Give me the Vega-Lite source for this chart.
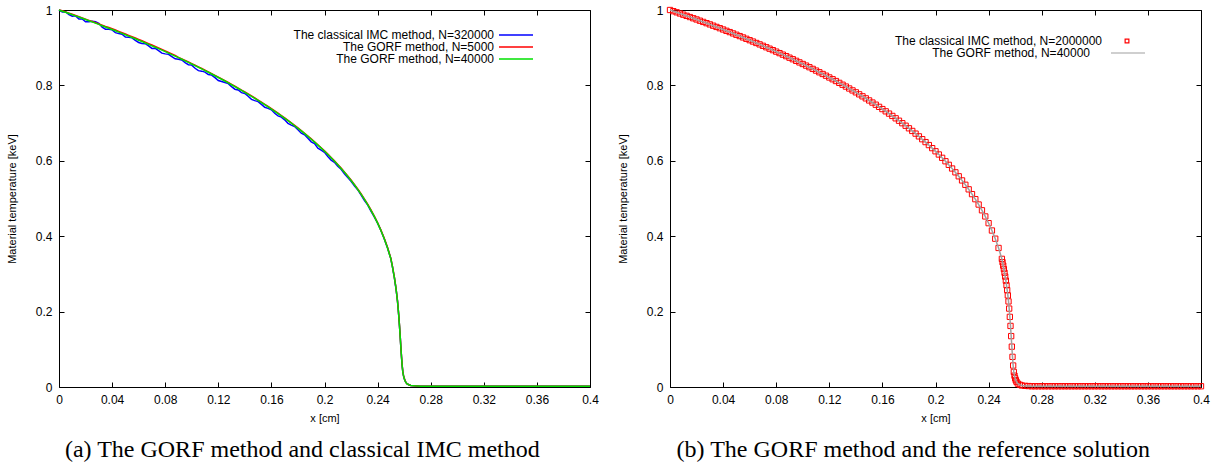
{
"$schema": "https://vega.github.io/schema/vega-lite/v6.json",
"background": "white",
"padding": {"left": 5, "top": 3, "right": 5, "bottom": 5},
"spacing": 17,
"resolve": {"scale": {"color": "independent", "strokeDash": "independent"}, "legend": {"color": "independent", "strokeDash": "independent"}},
"datasets": {"c": [
{"x":0,"imc":1,"g5":1,"g40":1,"ref":1},
{"x":0.0025,"imc":0.9949,"g5":0.9979,"g40":0.9969,"ref":0.9969},
{"x":0.005,"imc":0.9949,"g5":0.9949,"g40":0.9939,"ref":0.9939},
{"x":0.0075,"imc":0.9877,"g5":0.9917,"g40":0.9907,"ref":0.9907},
{"x":0.01,"imc":0.9836,"g5":0.9886,"g40":0.9876,"ref":0.9876},
{"x":0.0125,"imc":0.9845,"g5":0.9855,"g40":0.9845,"ref":0.9845},
{"x":0.015,"imc":0.9763,"g5":0.9823,"g40":0.9813,"ref":0.9813},
{"x":0.0175,"imc":0.9761,"g5":0.9791,"g40":0.9781,"ref":0.9781},
{"x":0.02,"imc":0.9689,"g5":0.9759,"g40":0.9749,"ref":0.9749},
{"x":0.0225,"imc":0.9686,"g5":0.9726,"g40":0.9716,"ref":0.9716},
{"x":0.025,"imc":0.9704,"g5":0.9694,"g40":0.9684,"ref":0.9684},
{"x":0.0275,"imc":0.9691,"g5":0.9661,"g40":0.9651,"ref":0.9651},
{"x":0.03,"imc":0.9648,"g5":0.9628,"g40":0.9618,"ref":0.9618},
{"x":0.0325,"imc":0.9544,"g5":0.9594,"g40":0.9584,"ref":0.9584},
{"x":0.035,"imc":0.9491,"g5":0.9561,"g40":0.9551,"ref":0.9551},
{"x":0.0375,"imc":0.9487,"g5":0.9537,"g40":0.9517,"ref":0.9517},
{"x":0.04,"imc":0.9473,"g5":0.9503,"g40":0.9483,"ref":0.9483},
{"x":0.0425,"imc":0.9398,"g5":0.9468,"g40":0.9448,"ref":0.9448},
{"x":0.045,"imc":0.9374,"g5":0.9434,"g40":0.9414,"ref":0.9414},
{"x":0.0475,"imc":0.9359,"g5":0.9399,"g40":0.9379,"ref":0.9379},
{"x":0.05,"imc":0.9283,"g5":0.9363,"g40":0.9343,"ref":0.9343},
{"x":0.0525,"imc":0.9278,"g5":0.9328,"g40":0.9308,"ref":0.9308},
{"x":0.055,"imc":0.9262,"g5":0.9292,"g40":0.9272,"ref":0.9272},
{"x":0.0575,"imc":0.9196,"g5":0.9256,"g40":0.9236,"ref":0.9236},
{"x":0.06,"imc":0.9139,"g5":0.9219,"g40":0.9199,"ref":0.9199},
{"x":0.0625,"imc":0.9113,"g5":0.9183,"g40":0.9163,"ref":0.9163},
{"x":0.065,"imc":0.9105,"g5":0.9145,"g40":0.9125,"ref":0.9125},
{"x":0.0675,"imc":0.9048,"g5":0.9108,"g40":0.9088,"ref":0.9088},
{"x":0.07,"imc":0.898,"g5":0.907,"g40":0.905,"ref":0.905},
{"x":0.0725,"imc":0.8982,"g5":0.9032,"g40":0.9012,"ref":0.9012},
{"x":0.075,"imc":0.8924,"g5":0.8994,"g40":0.8974,"ref":0.8974},
{"x":0.0775,"imc":0.8855,"g5":0.8955,"g40":0.8935,"ref":0.8935},
{"x":0.08,"imc":0.8836,"g5":0.8916,"g40":0.8896,"ref":0.8896},
{"x":0.0825,"imc":0.8826,"g5":0.8876,"g40":0.8856,"ref":0.8856},
{"x":0.085,"imc":0.8766,"g5":0.8836,"g40":0.8816,"ref":0.8816},
{"x":0.0875,"imc":0.8706,"g5":0.8796,"g40":0.8776,"ref":0.8776},
{"x":0.09,"imc":0.8695,"g5":0.8745,"g40":0.8735,"ref":0.8735},
{"x":0.0925,"imc":0.8674,"g5":0.8704,"g40":0.8694,"ref":0.8694},
{"x":0.095,"imc":0.8602,"g5":0.8662,"g40":0.8652,"ref":0.8652},
{"x":0.0975,"imc":0.855,"g5":0.862,"g40":0.861,"ref":0.861},
{"x":0.1,"imc":0.8538,"g5":0.8578,"g40":0.8568,"ref":0.8568},
{"x":0.1025,"imc":0.8455,"g5":0.8535,"g40":0.8525,"ref":0.8525},
{"x":0.105,"imc":0.8392,"g5":0.8492,"g40":0.8482,"ref":0.8482},
{"x":0.1075,"imc":0.8378,"g5":0.8448,"g40":0.8438,"ref":0.8438},
{"x":0.11,"imc":0.8353,"g5":0.8403,"g40":0.8393,"ref":0.8393},
{"x":0.1125,"imc":0.8288,"g5":0.8358,"g40":0.8348,"ref":0.8348},
{"x":0.115,"imc":0.8273,"g5":0.8313,"g40":0.8303,"ref":0.8303},
{"x":0.1175,"imc":0.8207,"g5":0.8267,"g40":0.8257,"ref":0.8257},
{"x":0.12,"imc":0.813,"g5":0.822,"g40":0.821,"ref":0.821},
{"x":0.1225,"imc":0.8103,"g5":0.8173,"g40":0.8163,"ref":0.8163},
{"x":0.125,"imc":0.8076,"g5":0.8126,"g40":0.8116,"ref":0.8116},
{"x":0.1275,"imc":0.8047,"g5":0.8077,"g40":0.8067,"ref":0.8067},
{"x":0.13,"imc":0.7968,"g5":0.8028,"g40":0.8018,"ref":0.8018},
{"x":0.1325,"imc":0.7899,"g5":0.7979,"g40":0.7969,"ref":0.7969},
{"x":0.135,"imc":0.7878,"g5":0.7928,"g40":0.7918,"ref":0.7918},
{"x":0.1375,"imc":0.7807,"g5":0.7877,"g40":0.7867,"ref":0.7867},
{"x":0.14,"imc":0.7786,"g5":0.7826,"g40":0.7816,"ref":0.7816},
{"x":0.1425,"imc":0.7713,"g5":0.7773,"g40":0.7763,"ref":0.7763},
{"x":0.145,"imc":0.763,"g5":0.772,"g40":0.771,"ref":0.771},
{"x":0.1475,"imc":0.7596,"g5":0.7666,"g40":0.7656,"ref":0.7656},
{"x":0.15,"imc":0.7571,"g5":0.7611,"g40":0.7601,"ref":0.7601},
{"x":0.1525,"imc":0.7495,"g5":0.7555,"g40":0.7545,"ref":0.7545},
{"x":0.155,"imc":0.7418,"g5":0.7498,"g40":0.7488,"ref":0.7488},
{"x":0.1575,"imc":0.7391,"g5":0.7441,"g40":0.7431,"ref":0.7431},
{"x":0.16,"imc":0.7352,"g5":0.7382,"g40":0.7372,"ref":0.7372},
{"x":0.1625,"imc":0.7262,"g5":0.7322,"g40":0.7312,"ref":0.7312},
{"x":0.165,"imc":0.7192,"g5":0.7262,"g40":0.7252,"ref":0.7252},
{"x":0.1675,"imc":0.716,"g5":0.72,"g40":0.719,"ref":0.719},
{"x":0.17,"imc":0.7087,"g5":0.7137,"g40":0.7127,"ref":0.7127},
{"x":0.1725,"imc":0.6993,"g5":0.7073,"g40":0.7063,"ref":0.7063},
{"x":0.175,"imc":0.6947,"g5":0.7007,"g40":0.6997,"ref":0.6997},
{"x":0.1775,"imc":0.691,"g5":0.694,"g40":0.693,"ref":0.693},
{"x":0.18,"imc":0.6822,"g5":0.6872,"g40":0.6862,"ref":0.6862},
{"x":0.1825,"imc":0.6732,"g5":0.6802,"g40":0.6792,"ref":0.6792},
{"x":0.185,"imc":0.6691,"g5":0.6731,"g40":0.6721,"ref":0.6721},
{"x":0.1875,"imc":0.6598,"g5":0.6658,"g40":0.6648,"ref":0.6648},
{"x":0.19,"imc":0.6503,"g5":0.6583,"g40":0.6573,"ref":0.6573},
{"x":0.1925,"imc":0.6456,"g5":0.6506,"g40":0.6496,"ref":0.6496},
{"x":0.195,"imc":0.6337,"g5":0.6427,"g40":0.6417,"ref":0.6417},
{"x":0.1975,"imc":0.6286,"g5":0.6346,"g40":0.6336,"ref":0.6336},
{"x":0.2,"imc":0.6223,"g5":0.6263,"g40":0.6253,"ref":0.6253},
{"x":0.2025,"imc":0.6117,"g5":0.6177,"g40":0.6167,"ref":0.6167},
{"x":0.205,"imc":0.6019,"g5":0.6089,"g40":0.6079,"ref":0.6079},
{"x":0.2075,"imc":0.5958,"g5":0.5998,"g40":0.5988,"ref":0.5988},
{"x":0.21,"imc":0.5853,"g5":0.5903,"g40":0.5893,"ref":0.5893},
{"x":0.2125,"imc":0.5776,"g5":0.5806,"g40":0.5796,"ref":0.5796},
{"x":0.215,"imc":0.5654,"g5":0.5704,"g40":0.5694,"ref":0.5694},
{"x":0.2175,"imc":0.5559,"g5":0.5599,"g40":0.5589,"ref":0.5589},
{"x":0.22,"imc":0.5459,"g5":0.5489,"g40":0.5479,"ref":0.5479},
{"x":0.2225,"imc":0.5334,"g5":0.5374,"g40":0.5364,"ref":0.5364},
{"x":0.225,"imc":0.5233,"g5":0.5253,"g40":0.5243,"ref":0.5243},
{"x":0.2275,"imc":0.5096,"g5":0.5126,"g40":0.5116,"ref":0.5116},
{"x":0.23,"imc":0.4952,"g5":0.4992,"g40":0.4982,"ref":0.4982},
{"x":0.2325,"imc":0.483,"g5":0.485,"g40":0.484,"ref":0.484},
{"x":0.235,"imc":0.4667,"g5":0.4697,"g40":0.4687,"ref":0.4687},
{"x":0.2375,"imc":0.4514,"g5":0.4534,"g40":0.4524,"ref":0.4524},
{"x":0.24,"imc":0.4346,"g5":0.4356,"g40":0.4346,"ref":0.4346},
{"x":0.2425,"imc":0.4151,"g5":0.4161,"g40":0.4151,"ref":0.4151},
{"x":0.245,"imc":0.3934,"g5":0.3944,"g40":0.3934,"ref":0.3934},
{"x":0.2475,"imc":0.3688,"g5":0.3698,"g40":0.3688,"ref":0.3688},
{"x":0.25,"imc":0.3399,"g5":0.3409,"g40":0.3399,"ref":0.3399},
{"x":0.2505,"imc":0.33,"g5":0.332,"g40":0.331,"ref":0.331},
{"x":0.251,"imc":0.323,"g5":0.323,"g40":0.322,"ref":0.322},
{"x":0.2515,"imc":0.312,"g5":0.314,"g40":0.313,"ref":0.313},
{"x":0.252,"imc":0.302,"g5":0.304,"g40":0.303,"ref":0.303},
{"x":0.2525,"imc":0.294,"g5":0.294,"g40":0.293,"ref":0.293},
{"x":0.253,"imc":0.281,"g5":0.283,"g40":0.282,"ref":0.282},
{"x":0.2535,"imc":0.269,"g5":0.271,"g40":0.27,"ref":0.27},
{"x":0.254,"imc":0.257,"g5":0.258,"g40":0.257,"ref":0.257},
{"x":0.2545,"imc":0.242,"g5":0.244,"g40":0.243,"ref":0.243},
{"x":0.255,"imc":0.228,"g5":0.228,"g40":0.227,"ref":0.227},
{"x":0.2555,"imc":0.207,"g5":0.209,"g40":0.208,"ref":0.208},
{"x":0.256,"imc":0.187,"g5":0.187,"g40":0.186,"ref":0.186},
{"x":0.2565,"imc":0.161,"g5":0.163,"g40":0.162,"ref":0.162},
{"x":0.257,"imc":0.136,"g5":0.136,"g40":0.135,"ref":0.135},
{"x":0.2575,"imc":0.106,"g5":0.108,"g40":0.107,"ref":0.107},
{"x":0.258,"imc":0.081,"g5":0.081,"g40":0.08,"ref":0.08},
{"x":0.2585,"imc":0.056,"g5":0.058,"g40":0.057,"ref":0.057},
{"x":0.259,"imc":0.041,"g5":0.041,"g40":0.04,"ref":0.04},
{"x":0.2595,"imc":0.03,"g5":0.031,"g40":0.03,"ref":0.03},
{"x":0.26,"imc":0.023,"g5":0.024,"g40":0.023,"ref":0.023},
{"x":0.2605,"imc":0.018,"g5":0.019,"g40":0.018,"ref":0.018},
{"x":0.261,"imc":0.014,"g5":0.014,"g40":0.014,"ref":0.014},
{"x":0.262,"imc":0.009,"g5":0.009,"g40":0.009,"ref":0.009},
{"x":0.2635,"imc":0.006,"g5":0.006,"g40":0.006,"ref":0.006},
{"x":0.265,"imc":0.004,"g5":0.004,"g40":0.004,"ref":0.004},
{"x":0.2675,"imc":0.003,"g5":0.003,"g40":0.003,"ref":0.003},
{"x":0.27,"imc":0.0025,"g5":0.0025,"g40":0.0025,"ref":0.0025},
{"x":0.2725,"imc":0.002,"g5":0.002,"g40":0.002,"ref":0.002},
{"x":0.275,"imc":0.002,"g5":0.002,"g40":0.002,"ref":0.002},
{"x":0.2775,"imc":0.002,"g5":0.002,"g40":0.002,"ref":0.002},
{"x":0.28,"imc":0.002,"g5":0.002,"g40":0.002,"ref":0.002},
{"x":0.2825,"imc":0.002,"g5":0.002,"g40":0.002,"ref":0.002},
{"x":0.285,"imc":0.002,"g5":0.002,"g40":0.002,"ref":0.002},
{"x":0.2875,"imc":0.002,"g5":0.002,"g40":0.002,"ref":0.002},
{"x":0.29,"imc":0.002,"g5":0.002,"g40":0.002,"ref":0.002},
{"x":0.2925,"imc":0.002,"g5":0.002,"g40":0.002,"ref":0.002},
{"x":0.295,"imc":0.002,"g5":0.002,"g40":0.002,"ref":0.002},
{"x":0.2975,"imc":0.002,"g5":0.002,"g40":0.002,"ref":0.002},
{"x":0.3,"imc":0.002,"g5":0.002,"g40":0.002,"ref":0.002},
{"x":0.3025,"imc":0.002,"g5":0.002,"g40":0.002,"ref":0.002},
{"x":0.305,"imc":0.002,"g5":0.002,"g40":0.002,"ref":0.002},
{"x":0.3075,"imc":0.002,"g5":0.002,"g40":0.002,"ref":0.002},
{"x":0.31,"imc":0.002,"g5":0.002,"g40":0.002,"ref":0.002},
{"x":0.3125,"imc":0.002,"g5":0.002,"g40":0.002,"ref":0.002},
{"x":0.315,"imc":0.002,"g5":0.002,"g40":0.002,"ref":0.002},
{"x":0.3175,"imc":0.002,"g5":0.002,"g40":0.002,"ref":0.002},
{"x":0.32,"imc":0.002,"g5":0.002,"g40":0.002,"ref":0.002},
{"x":0.3225,"imc":0.002,"g5":0.002,"g40":0.002,"ref":0.002},
{"x":0.325,"imc":0.002,"g5":0.002,"g40":0.002,"ref":0.002},
{"x":0.3275,"imc":0.002,"g5":0.002,"g40":0.002,"ref":0.002},
{"x":0.33,"imc":0.002,"g5":0.002,"g40":0.002,"ref":0.002},
{"x":0.3325,"imc":0.002,"g5":0.002,"g40":0.002,"ref":0.002},
{"x":0.335,"imc":0.002,"g5":0.002,"g40":0.002,"ref":0.002},
{"x":0.3375,"imc":0.002,"g5":0.002,"g40":0.002,"ref":0.002},
{"x":0.34,"imc":0.002,"g5":0.002,"g40":0.002,"ref":0.002},
{"x":0.3425,"imc":0.002,"g5":0.002,"g40":0.002,"ref":0.002},
{"x":0.345,"imc":0.002,"g5":0.002,"g40":0.002,"ref":0.002},
{"x":0.3475,"imc":0.002,"g5":0.002,"g40":0.002,"ref":0.002},
{"x":0.35,"imc":0.002,"g5":0.002,"g40":0.002,"ref":0.002},
{"x":0.3525,"imc":0.002,"g5":0.002,"g40":0.002,"ref":0.002},
{"x":0.355,"imc":0.002,"g5":0.002,"g40":0.002,"ref":0.002},
{"x":0.3575,"imc":0.002,"g5":0.002,"g40":0.002,"ref":0.002},
{"x":0.36,"imc":0.002,"g5":0.002,"g40":0.002,"ref":0.002},
{"x":0.3625,"imc":0.002,"g5":0.002,"g40":0.002,"ref":0.002},
{"x":0.365,"imc":0.002,"g5":0.002,"g40":0.002,"ref":0.002},
{"x":0.3675,"imc":0.002,"g5":0.002,"g40":0.002,"ref":0.002},
{"x":0.37,"imc":0.002,"g5":0.002,"g40":0.002,"ref":0.002},
{"x":0.3725,"imc":0.002,"g5":0.002,"g40":0.002,"ref":0.002},
{"x":0.375,"imc":0.002,"g5":0.002,"g40":0.002,"ref":0.002},
{"x":0.3775,"imc":0.002,"g5":0.002,"g40":0.002,"ref":0.002},
{"x":0.38,"imc":0.002,"g5":0.002,"g40":0.002,"ref":0.002},
{"x":0.3825,"imc":0.002,"g5":0.002,"g40":0.002,"ref":0.002},
{"x":0.385,"imc":0.002,"g5":0.002,"g40":0.002,"ref":0.002},
{"x":0.3875,"imc":0.002,"g5":0.002,"g40":0.002,"ref":0.002},
{"x":0.39,"imc":0.002,"g5":0.002,"g40":0.002,"ref":0.002},
{"x":0.3925,"imc":0.002,"g5":0.002,"g40":0.002,"ref":0.002},
{"x":0.395,"imc":0.002,"g5":0.002,"g40":0.002,"ref":0.002},
{"x":0.3975,"imc":0.002,"g5":0.002,"g40":0.002,"ref":0.002},
{"x":0.4,"imc":0.002,"g5":0.002,"g40":0.002,"ref":0.002}
]},
"config": {
  "view": {"stroke": "black", "strokeWidth": 1},
  "axis": {"grid": false, "domain": false, "tickColor": "black", "tickSize": -5, "tickWidth": 1,
           "labelFont": "Liberation Sans", "labelFontSize": 12, "labelColor": "black", "labelFlush": false,
           "titleFont": "Liberation Sans", "titleFontSize": 11, "titleFontWeight": "normal", "titleColor": "black"},
  "axisX": {"labelPadding": 12, "titlePadding": 7},
  "axisY": {"labelPadding": 12, "titlePadding": 18},
  "legend": {"title": null, "padding": 0, "labelFont": "Liberation Sans", "labelFontSize": 12, "labelColor": "black",
             "labelLimit": 400, "labelAlign": "right", "rowPadding": 0, "symbolType": "M-3.4,0H3.4", "symbolSize": 100,
             "symbolStrokeWidth": 1.3}
},
"hconcat": [
 {
  "width": 531, "height": 377,
  "title": {"text": "(a) The GORF method and classical IMC method", "orient": "bottom", "anchor": "middle", "frame": "bounds",
            "font": "Liberation Serif", "fontSize": 24, "fontWeight": "normal", "color": "black", "offset": 15},
  "data": {"name": "c"},
  "layer": [
   {"mark": {"type": "line", "strokeWidth": 1.5},
    "encoding": {
     "x": {"field": "x", "type": "quantitative", "scale": {"domain": [0, 0.4]},
           "axis": {"orient": "bottom", "title": "x [cm]", "values": [0,0.04,0.08,0.12,0.16,0.2,0.24,0.28,0.32,0.36,0.4], "format": "~g"}},
     "y": {"field": "imc", "type": "quantitative", "scale": {"domain": [0, 1]},
           "axis": {"orient": "left", "title": "Material temperature [keV]", "values": [0,0.2,0.4,0.6,0.8,1], "format": "~g"}},
     "color": {"datum": "The classical IMC method, N=320000", "type": "nominal",
       "scale": {"domain": ["The classical IMC method, N=320000", "The GORF method, N=5000", "The GORF method, N=40000"],
                 "range": ["#0000ff", "#ff0000", "#00e000"]},
       "legend": {"orient": "none", "legendX": 451, "legendY": 19, "labelOffset": -28}}
    }},
   {"mark": {"type": "line", "strokeWidth": 1.5},
    "encoding": {
     "x": {"field": "x", "type": "quantitative", "axis": null},
     "y": {"field": "g5", "type": "quantitative", "axis": null},
     "color": {"datum": "The GORF method, N=5000", "type": "nominal"}
    }},
   {"mark": {"type": "line", "strokeWidth": 1.5},
    "encoding": {
     "x": {"field": "x", "type": "quantitative", "axis": null},
     "y": {"field": "g40", "type": "quantitative", "axis": null},
     "color": {"datum": "The GORF method, N=40000", "type": "nominal"}
    }},
   {"mark": {"type": "line", "opacity": 0},
    "encoding": {
     "x": {"field": "x", "type": "quantitative",
           "axis": {"orient": "top", "title": null, "labels": false, "values": [0,0.04,0.08,0.12,0.16,0.2,0.24,0.28,0.32,0.36,0.4]}},
     "y": {"field": "g40", "type": "quantitative",
           "axis": {"orient": "right", "title": null, "labels": false, "values": [0,0.2,0.4,0.6,0.8,1]}}
    }}
  ],
  "resolve": {"axis": {"x": "independent", "y": "independent"}}
 },
 {
  "width": 531, "height": 377,
  "title": {"text": "(b) The GORF method and the reference solution", "orient": "bottom", "anchor": "middle", "frame": "bounds",
            "font": "Liberation Serif", "fontSize": 24, "fontWeight": "normal", "color": "black", "offset": 15},
  "data": {"name": "c"},
  "layer": [
   {"mark": {"type": "point", "shape": "square", "filled": false, "size": 28, "strokeWidth": 1, "opacity": 1},
    "encoding": {
     "x": {"field": "x", "type": "quantitative", "scale": {"domain": [0, 0.4]},
           "axis": {"orient": "bottom", "title": "x [cm]", "values": [0,0.04,0.08,0.12,0.16,0.2,0.24,0.28,0.32,0.36,0.4], "format": "~g"}},
     "y": {"field": "ref", "type": "quantitative", "scale": {"domain": [0, 1]},
           "axis": {"orient": "left", "title": "Material temperature [keV]", "values": [0,0.2,0.4,0.6,0.8,1], "format": "~g"}},
     "color": {"datum": "The classical IMC method, N=2000000", "type": "nominal",
       "scale": {"domain": ["The classical IMC method, N=2000000"], "range": ["#ff0000"]},
       "legend": {"orient": "none", "legendX": 451, "legendY": 25, "labelOffset": -31,
                  "symbolType": "square", "symbolSize": 14, "symbolStrokeWidth": 1.2}}
    }},
   {"mark": {"type": "line", "strokeWidth": 1.5, "color": "#a0a0a0"},
    "encoding": {
     "x": {"field": "x", "type": "quantitative", "axis": null},
     "y": {"field": "g40", "type": "quantitative", "axis": null},
     "strokeDash": {"datum": "The GORF method, N=40000", "type": "nominal",
       "scale": {"domain": ["The GORF method, N=40000"], "range": [[1, 0]]},
       "legend": {"orient": "none", "legendX": 452, "legendY": 37, "labelOffset": -44,
                  "symbolStrokeColor": "#a0a0a0", "symbolStrokeWidth": 1.2}}
    }},
   {"mark": {"type": "line", "opacity": 0},
    "encoding": {
     "x": {"field": "x", "type": "quantitative",
           "axis": {"orient": "top", "title": null, "labels": false, "values": [0,0.04,0.08,0.12,0.16,0.2,0.24,0.28,0.32,0.36,0.4]}},
     "y": {"field": "g40", "type": "quantitative",
           "axis": {"orient": "right", "title": null, "labels": false, "values": [0,0.2,0.4,0.6,0.8,1]}}
    }}
  ],
  "resolve": {"axis": {"x": "independent", "y": "independent"}}
 }
]
}
